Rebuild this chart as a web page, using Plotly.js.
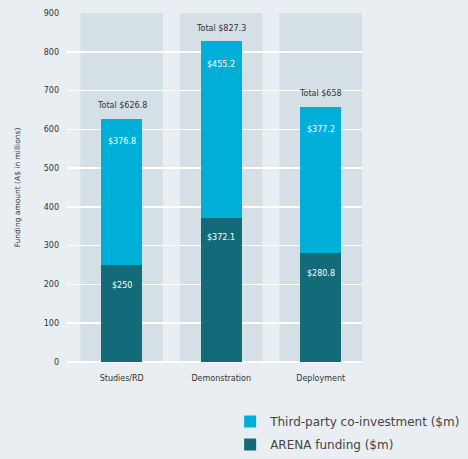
<!DOCTYPE html>
<html>
<head>
<meta charset="utf-8">
<script src="https://cdn.plot.ly/plotly-3.0.1.min.js"></script>
<style>html,body{margin:0;padding:0;background:#e9eef2;}#chart{width:468px;height:459px;}</style>
</head>
<body>
<div id="chart"></div>
<script>
const categories = ["Studies/RD", "Demonstration", "Deployment"];
const arenaFunding = [250, 372.1, 280.8];
const thirdParty = [376.8, 455.2, 377.2];
const totals = [626.8, 827.3, 658];
const arenaLabels = ["$250", "$372.1", "$280.8"];
const thirdLabels = ["$376.8", "$455.2", "$377.2"];
const totalLabels = ["Total $626.8", "Total $827.3", "Total $658"];
const yTicks = [0, 100, 200, 300, 400, 500, 600, 700, 800, 900];

const FONT = "'DejaVu Sans', sans-serif";
const cyan = "#00afd8";
const teal = "#136a79";

const traces = [
  {type: "bar", name: "ARENA funding ($m)", x: categories, y: arenaFunding, legendgroup: "a", legendrank: 2,
   marker: {color: teal}, width: 0.41, hoverinfo: "none"},
  {type: "bar", name: "Third-party co-investment ($m)", x: categories, y: thirdParty, legendgroup: "b", legendrank: 1,
   marker: {color: cyan}, width: 0.41, hoverinfo: "none"}
];

const annotations = [];
categories.forEach((c, i) => {
  annotations.push({x: c, y: arenaFunding[i], text: arenaLabels[i], showarrow: false,
    yanchor: "middle", yshift: -20, font: {family: FONT, size: 8, color: "#ffffff"}});
  annotations.push({x: c, y: arenaFunding[i] + thirdParty[i], text: thirdLabels[i], showarrow: false,
    yanchor: "middle", yshift: -23, font: {family: FONT, size: 8, color: "#ffffff"}});
  annotations.push({x: c, y: totals[i], text: totalLabels[i], showarrow: false,
    yanchor: "middle", yshift: 13, font: {family: FONT, size: 8, color: "#333333"}});
});

const shapes = categories.map((c, i) => ({
  type: "rect", xref: "x", yref: "y", x0: i - 0.415, x1: i + 0.415, y0: 0, y1: 900,
  fillcolor: "#d4dfe6", line: {width: 0}, layer: "below"
}));

// paper area: height 459 - t(13) - b(0) = 446; plot bottom at y=362 px
const layout = {
  width: 468, height: 459,
  margin: {l: 67, r: 106, t: 13, b: 0},
  paper_bgcolor: "#e9eef2", plot_bgcolor: "rgba(0,0,0,0)",
  barmode: "stack",
  showlegend: true,
  legend: {x: 0.553, y: 0, xanchor: "left", yanchor: "bottom",
    font: {family: FONT, size: 12, color: "#444444"}, bgcolor: "rgba(0,0,0,0)",
    traceorder: "grouped", tracegroupgap: 4},
  xaxis: {type: "category", range: [-0.55, 2.415], showgrid: false, zeroline: false,
    showline: false, ticks: "", tickfont: {family: FONT, size: 8, color: "#333333"}, ticklabelstandoff: 10},
  yaxis: {domain: [97 / 446, 1], range: [0, 900], tickvals: yTicks, showgrid: true, gridcolor: "#ffffff", gridwidth: 1.5,
    zeroline: true, zerolinecolor: "#ffffff", zerolinewidth: 1.5, showline: false, ticks: "",
    tickfont: {family: FONT, size: 8, color: "#333333"}, ticklabelstandoff: 7,
    title: {text: "Funding amount (A$ in millions)", standoff: 22,
      font: {family: FONT, size: 7.5, color: "#333333"}}},
  annotations: annotations,
  shapes: shapes,
  font: {family: FONT}
};

Plotly.newPlot("chart", traces, layout, {displayModeBar: false, staticPlot: true});
</script>
</body>
</html>
